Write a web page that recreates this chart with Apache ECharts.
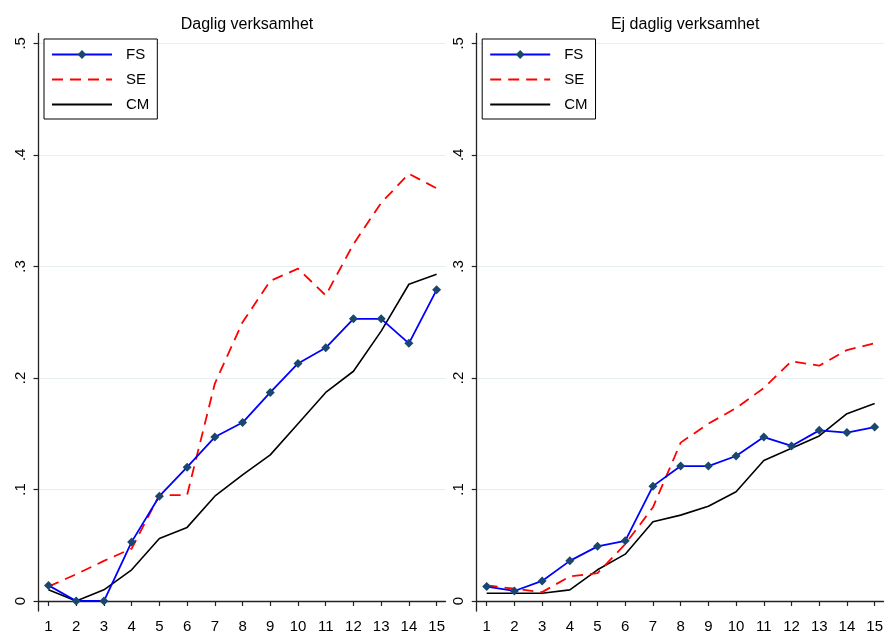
<!DOCTYPE html>
<html>
<head>
<meta charset="utf-8">
<script src="https://cdn.jsdelivr.net/npm/echarts@6/dist/echarts.min.js"></script>
<style>
html,body{margin:0;padding:0;background:#fff;}
#c{width:886px;height:634px;}
</style>
</head>
<body>
<div id="c"></div>
<script>
// ---- data ----
const periods = [1,2,3,4,5,6,7,8,9,10,11,12,13,14,15];
const panelTitles = ['Daglig verksamhet', 'Ej daglig verksamhet'];
const seriesNames = ['FS', 'SE', 'CM'];

const dagligFS = [0.014,0.000,0.000,0.053,0.094,0.120,0.147,0.160,0.187,0.213,0.227,0.253,0.253,0.231,0.279];
const dagligSE = [0.013,0.024,0.036,0.047,0.095,0.095,0.195,0.250,0.287,0.298,0.274,0.320,0.357,0.383,0.370];
const dagligCM = [0.010,0.000,0.010,0.028,0.056,0.066,0.094,0.113,0.131,0.159,0.187,0.206,0.242,0.284,0.293];

const ejFS = [0.013,0.009,0.018,0.036,0.049,0.054,0.103,0.121,0.121,0.130,0.147,0.139,0.153,0.151,0.156];
const ejSE = [0.014,0.011,0.008,0.022,0.025,0.051,0.084,0.142,0.159,0.173,0.191,0.215,0.211,0.225,0.231];
const ejCM = [0.007,0.007,0.007,0.010,0.028,0.042,0.071,0.077,0.085,0.098,0.126,0.137,0.148,0.168,0.177];

const yTicks = [0, 0.1, 0.2, 0.3, 0.4, 0.5];
const yTickLabels = ['0', '.1', '.2', '.3', '.4', '.5'];
const xTicks = periods;

// ---- build ----
const FONT = '"Liberation Sans", Arial, Helvetica, sans-serif';
const pairs = (vals) => periods.map((p, i) => [p, vals[i]]);
const panels = [[dagligFS, dagligSE, dagligCM], [ejFS, ejSE, ejCM]];
const gridLefts = [38.5, 476.7];

const grids = gridLefts.map(l => ({left: l, top: 33.5, width: 407, height: 578.2, containLabel: false}));

const xAxes = grids.map((g, i) => ({
  type: 'value', gridIndex: i, min: 0.64, max: 15.32,
  axisLine: {show: true, lineStyle: {color: '#222', width: 1.3}},
  axisTick: {show: true, length: 5, lineStyle: {color: '#222', width: 1.2}, customValues: xTicks},
  axisLabel: {show: true, customValues: xTicks, margin: 8, fontSize: 15, color: '#000', fontFamily: FONT,
    formatter: v => String(v)},
  splitLine: {show: false}
}));

const yAxes = grids.map((g, i) => ({
  type: 'value', gridIndex: i, min: -0.00895, max: 0.5088,
  axisLine: {show: true, lineStyle: {color: '#222', width: 1.3}},
  axisTick: {show: true, length: 5, lineStyle: {color: '#222', width: 1.2}, customValues: yTicks},
  axisLabel: {show: true, customValues: yTicks, rotate: 90, margin: 10, fontSize: 15, color: '#000', fontFamily: FONT,
    formatter: v => { const k = yTicks.findIndex(t => Math.abs(t - v) < 1e-6); return k >= 0 ? yTickLabels[k] : ''; }},
  splitLine: {show: true, lineStyle: {color: '#e6eff1', width: 1.2}}
}));

const styles = [
  {lineStyle: {color: '#0000ff', width: 1.8, type: 'solid'}, symbol: 'diamond', symbolSize: 9, itemStyle: {color: '#1a476f'}},
  {lineStyle: {color: '#ff0000', width: 1.8, type: [11, 7]}, symbol: 'none', itemStyle: {color: '#ff0000'}},
  {lineStyle: {color: '#000000', width: 1.6, type: 'solid'}, symbol: 'none', itemStyle: {color: '#000000'}}
];

const series = [];
panels.forEach((vals, pi) => {
  vals.forEach((arr, si) => {
    const st = styles[si];
    series.push({
      type: 'line', name: seriesNames[si], xAxisIndex: pi, yAxisIndex: pi,
      data: pairs(arr), symbol: st.symbol, symbolSize: st.symbolSize || 0, showSymbol: st.symbol !== 'none',
      lineStyle: st.lineStyle, itemStyle: st.itemStyle, z: 10 - si,
      animation: false, emphasis: {disabled: true}
    });
  });
});

const legendData = seriesNames.map((n, si) => styles[si].symbol === 'none'
  ? {name: n, itemStyle: {opacity: 0}}
  : {name: n});

const legends = gridLefts.map((l, i) => ({
  orient: 'vertical', left: l + 5.5, top: 39,
  padding: [8, 8, 7, 7], itemWidth: 60, itemHeight: 11, itemGap: 10,
  borderColor: '#000', borderWidth: 1, backgroundColor: '#fff',
  textStyle: {fontSize: 15, color: '#000', fontFamily: FONT, padding: [0, 0, 0, 9]},
  data: legendData, selectedMode: false
}));

const titles = panelTitles.map((t, i) => ({
  text: t, left: gridLefts[i] + 203.5, top: 12, textAlign: 'center',
  textStyle: {fontSize: 16, fontWeight: 'normal', color: '#000', fontFamily: FONT}
}));

const chart = echarts.init(document.getElementById('c'), null, {renderer: 'canvas'});
chart.setOption({
  backgroundColor: '#fff',
  animation: false,
  title: titles,
  legend: legends,
  grid: grids,
  xAxis: xAxes,
  yAxis: yAxes,
  series: series
});
</script>
</body>
</html>
